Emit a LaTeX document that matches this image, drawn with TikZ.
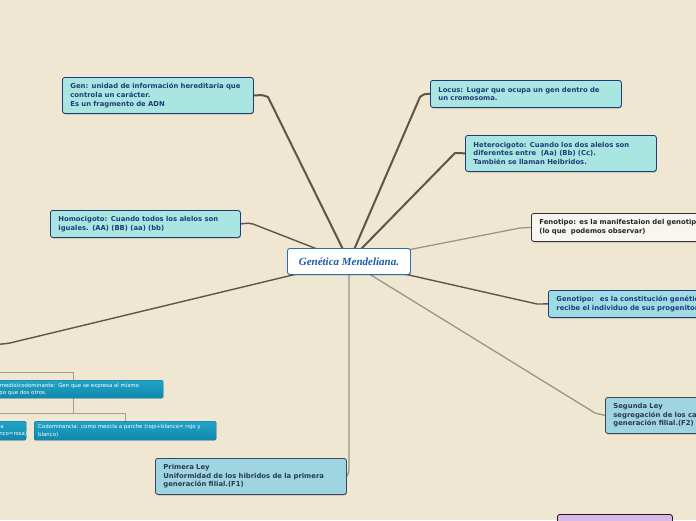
\documentclass[tikz,border=0pt]{standalone}
\usepackage{fontspec}
\setmainfont{DejaVu Sans}
\newfontfamily\titlefont{Liberation Serif}
\usetikzlibrary{shadows}
\pgfdeclarelayer{back}
\pgfdeclarelayer{lines}
\pgfsetlayers{back,lines,main}
\definecolor{bg}{HTML}{EFE7D1}
\definecolor{cyanbox}{HTML}{A9E6E1}
\definecolor{navy}{HTML}{1F3C7A}
\definecolor{genobox}{HTML}{A0DBE5}
\definecolor{leybox}{HTML}{9FD5E2}
\definecolor{leyborder}{HTML}{3A4858}
\definecolor{leytext}{HTML}{2C3A4A}
\definecolor{fenobox}{HTML}{F7F6F1}
\definecolor{titleblue}{HTML}{1E5AA8}
\definecolor{titleborder}{HTML}{2A6DB3}
\definecolor{darkline}{HTML}{5E5646}
\definecolor{lightline}{HTML}{9C9588}
\definecolor{treeline}{HTML}{A59D8E}
\definecolor{treetop}{HTML}{22A4C8}
\definecolor{treebot}{HTML}{0F87AB}
\definecolor{purplebox}{HTML}{D9B9E3}
\definecolor{purpleborder}{HTML}{2A1232}
\tikzset{
  box/.style={draw, rounded corners=2.5pt, line width=0.8pt, anchor=north west,
    align=left, inner xsep=8pt, inner ysep=2pt,
    font=\fontsize{6.85}{8.7}\selectfont\bfseries,
    drop shadow={shadow xshift=0.5pt, shadow yshift=-0.9pt, opacity=0.35, fill=black}},
  cyanstyle/.style={box, fill=cyanbox, draw=navy, text=navy},
  genostyle/.style={box, fill=genobox, draw=navy, text=navy},
  leystyle/.style={box, fill=leybox, draw=leyborder, text=leytext},
  fenostyle/.style={box, fill=fenobox, draw=black!80, text=black!85},
  titlestyle/.style={draw=titleborder, fill=white, rounded corners=2.5pt, line width=0.9pt,
    anchor=north west, minimum width=123pt, minimum height=26pt, inner sep=0pt,
    text=titleblue, font=\titlefont\bfseries\itshape\fontsize{11}{13}\selectfont,
    drop shadow={shadow xshift=0.5pt, shadow yshift=-0.9pt, opacity=0.3, fill=black}},
  treebox/.style={rounded corners=1.5pt, anchor=north west, align=left,
    top color=treetop, bottom color=treebot, draw=treebot!80!black, line width=0.4pt,
    text=white, inner xsep=4pt, inner ysep=1pt,
    font=\fontsize{5.4}{7.2}\selectfont},
  darkconn/.style={draw=darkline, line width=2pt, line cap=round},
  midconn/.style={draw=darkline, line width=1.4pt, line cap=round},
  lightconn/.style={draw=lightline, line width=1.3pt, line cap=round},
  treeconn/.style={draw=treeline, line width=0.8pt}
}
\begin{document}
\begin{tikzpicture}[x=1pt,y=-1pt]
\useasboundingbox (0,0) rectangle (696,520);
\clip (0,0) rectangle (696,520);
\begin{pgfonlayer}{back}
\fill[bg] (0,0) rectangle (696,520);
\end{pgfonlayer}

% nodes
\node[titlestyle] (c) at (287,248) {Genética Mendeliana.};
\node[cyanstyle, text width=175pt, minimum height=36pt] (gen) at (62,77)
  {Gen: unidad de información hereditaria que\\controla un carácter.\\Es un fragmento de ADN};
\node[cyanstyle, text width=175pt, minimum height=27pt] (locus) at (430,80)
  {Locus: Lugar que ocupa un gen dentro de\\un cromosoma.};
\node[cyanstyle, text width=175pt, minimum height=36pt] (het) at (465,135)
  {Heterocigoto: Cuando los dos alelos son\\diferentes entre \ (Aa) (Bb) (Cc).\\También se llaman Heibridos.};
\node[cyanstyle, text width=174pt, minimum height=27pt] (homo) at (50,210)
  {Homocigoto: Cuando todos los alelos son\\iguales. (AA) (BB) (aa) (bb)};
\node[fenostyle, text width=210pt, minimum height=28pt] (feno) at (531,213)
  {Fenotipo: es la manifestaion del genotipo\\(lo que \ podemos observar)};
\node[genostyle, text width=210pt, minimum height=27pt] (geno) at (548,290)
  {Genotipo: \ es la constitución genética que\\recibe el individuo de sus progenitores.};
\node[leystyle, text width=210pt, minimum height=36pt] (seg) at (605,397)
  {Segunda Ley\\segregación de los caracteres en la segunda\\generación filial.(F2)};
\node[leystyle, text width=175pt, minimum height=36pt] (prim) at (155,458)
  {Primera Ley\\Uniformidad de los hibridos de la primera\\generación filial.(F1)};
\node[box, fill=purplebox, draw=purpleborder, text width=99pt, minimum height=30pt] (purple) at (557,514) {};

% tree nodes
\node[treebox, text width=172pt, minimum height=18pt] (inter) at (-17,380)
  {Intermedio/codominante: Gen que se expresa al mismo\\tiempo que dos otros.};
\node[treebox, text width=48pt, minimum height=19pt] (small) at (-30,421)
  {Intermedia\\(rojo+blanco=rosa)};
\node[treebox, text width=174pt, minimum height=19pt] (codom) at (34,421)
  {Codominancia: como mezcla a parche (rojo+blanco= rojo y\\blanco)};

% bend coordinates
\coordinate (bgen) at (268,97);
\coordinate (blocus) at (420,97);
\coordinate (bhet) at (455,153);
\coordinate (bhomo) at (253,224);
\coordinate (bfeno) at (520,228);
\coordinate (bgeno) at (537,304);
\coordinate (bseg) at (595,413);
\coordinate (bprim) at (349,466);
\coordinate (bleft) at (10,343);
\coordinate (offleft) at (-20,345);
\coordinate (treeparent) at (-30,372);

% connectors
\begin{pgfonlayer}{lines}
\path[darkconn] (c.center) -- (bgen) .. controls (264,95) .. (gen.east);
\path[darkconn] (c.center) -- (blocus) .. controls (424,94) .. (locus.west);
\path[darkconn] (c.center) -- (bhet) .. controls (459,153) .. (het.west);
\path[midconn] (c.center) -- (bhomo) .. controls (249,223) .. (homo.east);
\path[lightconn] (c.center) -- (bfeno) .. controls (525,227) .. (feno.west);
\path[midconn] (c.center) -- (bgeno) .. controls (542,304) .. (geno.west);
\path[lightconn] (c.center) -- (bseg) .. controls (600,415) .. (seg.west);
\path[lightconn] (c.center) -- (bprim) .. controls (349,472) .. (prim.east);
\path[midconn] (c.center) -- (bleft) .. controls (4,344) .. (offleft);
\path[treeconn] (treeparent) -| (inter.north);
\path[treeconn] (inter.south) -- ++(0,15) -| (codom.north);
\path[treeconn] (inter.south) -- ++(0,15) -| (small.north);
\end{pgfonlayer}
\end{tikzpicture}
\end{document}
